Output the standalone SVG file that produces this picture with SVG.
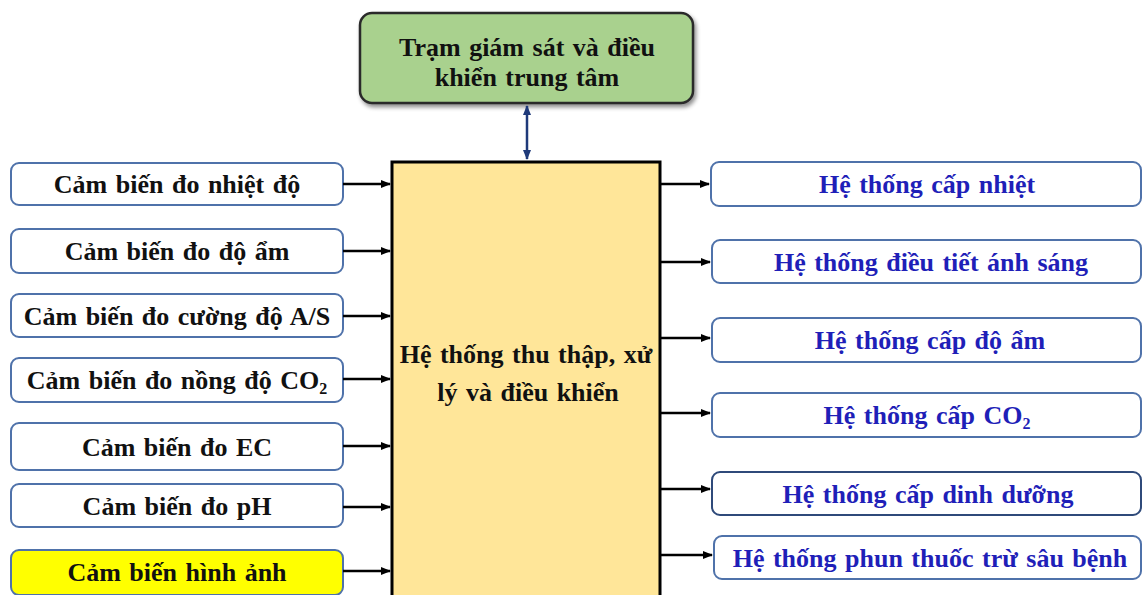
<svg xmlns="http://www.w3.org/2000/svg" width="1143" height="595" viewBox="0 0 1143 595">
<style>
.box{fill:#fff;stroke:#4F72AA;stroke-width:2}
.t{font-family:"Liberation Serif","Times New Roman",serif;font-weight:bold;font-size:26px;word-spacing:2px;text-anchor:middle;fill:#111}
.b{fill:#1F1FB8}
.c{stroke:#000;stroke-width:2.5;fill:none;marker-end:url(#ah)}
</style>
<defs>
<marker id="ah" viewBox="0 0 10 10" refX="9" refY="5" markerWidth="4" markerHeight="4" orient="auto" markerUnits="strokeWidth"><path d="M0,1 L10,5 L0,9 z" fill="#000"/></marker>
<marker id="nv" viewBox="0 0 10 10" refX="9" refY="5" markerWidth="4" markerHeight="4" orient="auto-start-reverse" markerUnits="strokeWidth"><path d="M0,1 L10,5 L0,9 z" fill="#1F3A7A"/></marker>
<filter id="sh" x="-10%" y="-10%" width="130%" height="140%"><feDropShadow dx="2" dy="3" stdDeviation="2" flood-color="#000" flood-opacity="0.45"/></filter>
</defs>
<g id="top"><rect x="360" y="13" width="333" height="90" rx="12" fill="#A9D18E" stroke="#2B2B2B" stroke-width="2.5" filter="url(#sh)"/>
<text class="t" x="527" y="56">Trạm giám sát và điều</text><text class="t" x="527" y="86">khiển trung tâm</text></g>
<g id="center"><rect x="392" y="162" width="268" height="440" fill="#FFE699" stroke="#000" stroke-width="3"/>
<text class="t" x="526" y="363">Hệ thống thu thập, xử</text><text class="t" x="528" y="401">lý và điều khiển</text></g>
<g id="l1"><rect class="box" x="11" y="163" width="332" height="42" rx="8"/><text class="t" x="177" y="193">Cảm biến đo nhiệt độ</text></g>
<g id="l2"><rect class="box" x="11" y="229" width="332" height="44" rx="8"/><text class="t" x="177" y="260">Cảm biến đo độ ẩm</text></g>
<g id="l3"><rect class="box" x="11" y="294" width="332" height="43" rx="8"/><text class="t" x="177" y="325">Cảm biến đo cường độ A/S</text></g>
<g id="l4"><rect class="box" x="11" y="358" width="332" height="44" rx="8"/><text class="t" x="177" y="389">Cảm biến đo nồng độ CO<tspan font-size="16" dy="5">2</tspan></text></g>
<g id="l5"><rect class="box" x="11" y="423" width="332" height="47" rx="8"/><text class="t" x="177" y="456">Cảm biến đo EC</text></g>
<g id="l6"><rect class="box" x="11" y="484" width="332" height="43" rx="8"/><text class="t" x="177" y="515">Cảm biến đo pH</text></g>
<g id="l7"><rect x="11" y="550" width="332" height="45" rx="8" fill="#FFFF00" stroke="#4F72AA" stroke-width="2"/><text class="t" x="177" y="581">Cảm biến hình ảnh</text></g>
<g id="r1"><rect class="box" x="711" y="162" width="430" height="44" rx="8"/><text class="t b" x="927" y="193">Hệ thống cấp nhiệt</text></g>
<g id="r2"><rect class="box" x="712" y="240" width="429" height="43" rx="8"/><text class="t b" x="931" y="271">Hệ thống điều tiết ánh sáng</text></g>
<g id="r3"><rect class="box" x="712" y="318" width="429" height="44" rx="8"/><text class="t b" x="930" y="349">Hệ thống cấp độ ẩm</text></g>
<g id="r4"><rect class="box" x="712" y="393" width="429" height="44" rx="8"/><text class="t b" x="927" y="424">Hệ thống cấp CO<tspan font-size="16" dy="5">2</tspan></text></g>
<g id="r5"><rect class="box" x="712" y="472" width="429" height="43" rx="8" style="stroke:#2F4A7A"/><text class="t b" x="928" y="503">Hệ thống cấp dinh dưỡng</text></g>
<g id="r6"><rect class="box" x="714" y="536" width="427" height="43" rx="8"/><text class="t b" x="930" y="567">Hệ thống phun thuốc trừ sâu bệnh</text></g>
<g id="connectors">
<line x1="527" y1="106" x2="527" y2="159" stroke="#1F3A7A" stroke-width="2.5" marker-start="url(#nv)" marker-end="url(#nv)"/>
<line class="c" x1="343" y1="184" x2="390" y2="184"/>
<line class="c" x1="343" y1="251" x2="390" y2="251"/>
<line class="c" x1="343" y1="316" x2="390" y2="316"/>
<line class="c" x1="343" y1="379" x2="390" y2="379"/>
<line class="c" x1="343" y1="446" x2="390" y2="446"/>
<line class="c" x1="343" y1="507" x2="390" y2="507"/>
<line class="c" x1="343" y1="571" x2="390" y2="571"/>
<line class="c" x1="661" y1="184" x2="709" y2="184"/>
<line class="c" x1="661" y1="262" x2="710" y2="262"/>
<line class="c" x1="661" y1="338" x2="710" y2="338"/>
<line class="c" x1="661" y1="413" x2="710" y2="413"/>
<line class="c" x1="661" y1="489" x2="710" y2="489"/>
<line class="c" x1="661" y1="555" x2="712" y2="555"/>
</g>
</svg>
